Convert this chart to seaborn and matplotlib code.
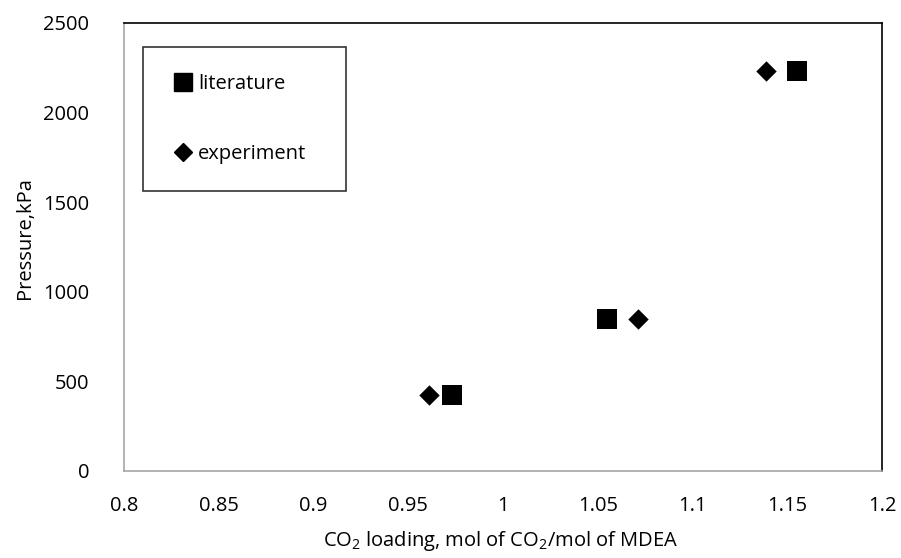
import matplotlib
matplotlib.use("Agg")
import matplotlib.pyplot as plt
import seaborn as sns
import pandas as pd
from matplotlib.lines import Line2D

# CO2 loading (mol CO2 / mol MDEA) and equilibrium pressure (kPa)
lit_loading = [0.973, 1.055, 1.155]
lit_pressure = [424, 848, 2232]
exp_loading = [0.961, 1.071, 1.139]
exp_pressure = [424, 848, 2232]

x_ticks = [0.8, 0.85, 0.9, 0.95, 1.0, 1.05, 1.1, 1.15, 1.2]
x_tick_labels = ["0.8", "0.85", "0.9", "0.95", "1", "1.05", "1.1", "1.15", "1.2"]
y_ticks = [0, 500, 1000, 1500, 2000, 2500]

FS = 14.5

sns.set_theme(style="white")
plt.rcParams["font.family"] = ["Open Sans", "DejaVu Sans"]
plt.rcParams["mathtext.fontset"] = "custom"
plt.rcParams["mathtext.rm"] = "Open Sans"
plt.rcParams["mathtext.it"] = "Open Sans"

fig = plt.figure(figsize=(9.01, 5.58), dpi=100)
ax = fig.add_axes([124 / 901, 1 - 471 / 558, 758 / 901, 448 / 558])

lit = pd.DataFrame({"loading": lit_loading, "pressure": lit_pressure})
exp = pd.DataFrame({"loading": exp_loading, "pressure": exp_pressure})

sns.scatterplot(data=lit, x="loading", y="pressure", marker="s", s=207,
                color="black", edgecolor="black", linewidth=0, ax=ax, zorder=3)
sns.scatterplot(data=exp, x="loading", y="pressure", marker="D", s=108,
                color="black", edgecolor="black", linewidth=0, ax=ax, zorder=3)

ax.set_xlim(0.8, 1.2)
ax.set_ylim(0, 2500)
ax.set_xticks(x_ticks)
ax.set_xticklabels(x_tick_labels)
ax.set_yticks(y_ticks)
ax.tick_params(axis="both", length=0, labelsize=FS, colors="black")
ax.tick_params(axis="x", pad=18)
ax.tick_params(axis="y", pad=25)

for side in ["left", "bottom"]:
    ax.spines[side].set_color("#a6a6a6")
    ax.spines[side].set_linewidth(1.2)
for side in ["top", "right"]:
    ax.spines[side].set_color("black")
    ax.spines[side].set_linewidth(1.2)

ax.set_xlabel("CO$_2$ loading, mol of CO$_2$/mol of MDEA", fontsize=FS,
              color="black")
ax.xaxis.set_label_coords(0.497, -0.13)
ax.xaxis.label.set_va("top")
ax.set_ylabel("Pressure,kPa", fontsize=FS, color="black")
ax.yaxis.set_label_coords(-0.118, 0.52)

handles = [
    Line2D([], [], marker="s", linestyle="none", color="black", markersize=12.5),
    Line2D([], [], marker="D", linestyle="none", color="black", markersize=9),
]
leg = ax.legend(handles, ["literature", "experiment"], loc="upper left",
                bbox_to_anchor=(0.025, 0.636, 0.268, 0.31), mode="expand",
                frameon=True, fancybox=False, fontsize=FS, labelspacing=2.45,
                handlelength=1.25, handletextpad=0.15, borderpad=1.35,
                borderaxespad=0, edgecolor="black")
leg.get_frame().set_linewidth(1.2)
for t in leg.get_texts():
    t.set_color("black")

fig.savefig("out.png", dpi=100, facecolor="white")
